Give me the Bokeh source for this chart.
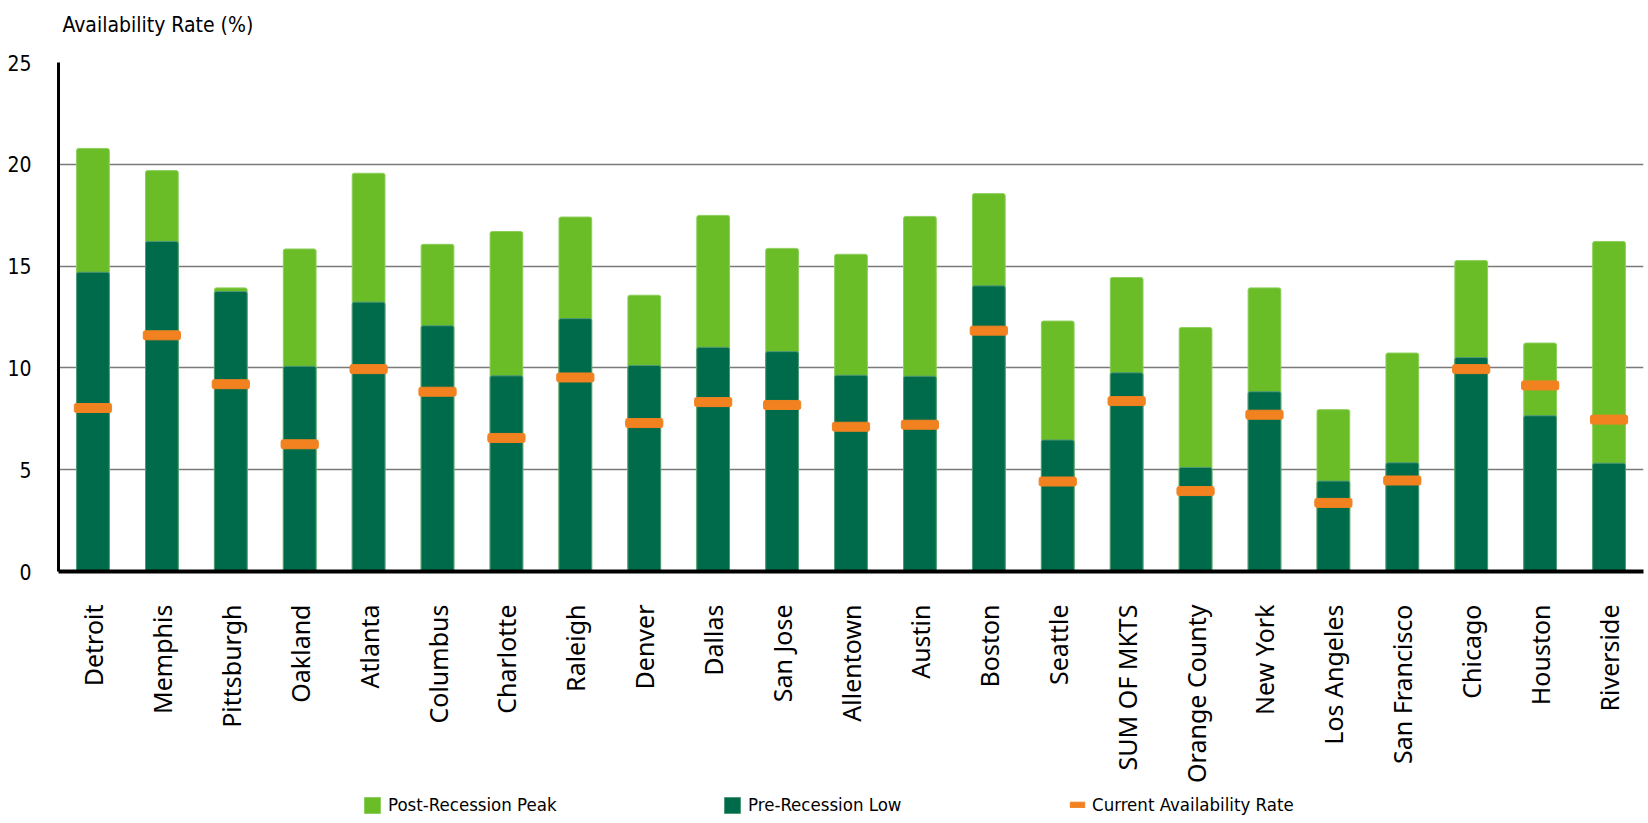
import math
from bokeh.plotting import figure
from bokeh.models import FixedTicker, Legend, LegendItem, Label, Range1d
from bokeh.layouts import column
from bokeh.embed import file_html
from bokeh.resources import INLINE

cities = ["Detroit", "Memphis", "Pittsburgh", "Oakland", "Atlanta", "Columbus",
          "Charlotte", "Raleigh", "Denver", "Dallas", "San Jose", "Allentown",
          "Austin", "Boston", "Seattle", "SUM OF MKTS", "Orange County",
          "New York", "Los Angeles", "San Francisco", "Chicago", "Houston",
          "Riverside"]
post_peak = [20.78, 19.69, 13.93, 15.84, 19.56, 16.07, 16.70, 17.41, 13.57,
             17.49, 15.87, 15.58, 17.44, 18.56, 12.30, 14.44, 11.98, 13.93,
             7.95, 10.73, 15.27, 11.22, 16.21]
pre_low = [14.70, 16.21, 13.75, 10.08, 13.23, 12.07, 9.61, 12.42, 10.12,
           11.01, 10.80, 9.64, 9.59, 14.03, 6.46, 9.76, 5.11, 8.83,
           4.44, 5.34, 10.51, 7.65, 5.32]
current = [8.03, 11.60, 9.20, 6.25, 9.94, 8.83, 6.56, 9.53, 7.29,
           8.32, 8.18, 7.11, 7.21, 11.83, 4.42, 8.37, 3.95, 7.70,
           3.37, 4.47, 9.94, 9.14, 7.46]
y_ticks = [0, 5, 10, 15, 20, 25]
legend_labels = ["Post-Recession Peak", "Pre-Recession Low", "Current Availability Rate"]
y_title = "Availability Rate (%)"

LIGHT = "#6bbd28"
DARK = "#006b4b"
ORANGE = "#f28220"
COND = "DejaVu Sans Condensed"


def strip(h):
    f = figure(width=1648, height=h, output_backend="svg", toolbar_location=None,
               x_range=Range1d(0, 1), y_range=Range1d(0, 1),
               x_axis_location=None, y_axis_location=None,
               min_border_left=0, min_border_right=0, min_border_top=0,
               min_border_bottom=0)
    f.outline_line_color = None
    f.grid.grid_line_color = None
    return f


# title strip
t = strip(40)
t.add_layout(Label(x=4, y=16, x_units="screen", y_units="screen",
                   text=y_title, text_font=COND, text_font_size="21px",
                   text_color="black", text_baseline="middle",
                   text_align="left"))

# main chart
p = figure(x_range=cities, y_range=(0, 25), width=1648, height=745,
           output_backend="svg", toolbar_location=None,
           min_border_left=58, min_border_right=5, min_border_top=22,
           min_border_bottom=212)
p.outline_line_color = None

r_peak = p.vbar(x=cities, top=post_peak, width=0.475, fill_color=LIGHT,
                line_color="#8ccf5c", line_width=1, border_radius=2)
r_low = p.vbar(x=cities, top=pre_low, width=0.475, fill_color=DARK,
               line_color="#4f9a7a", line_width=1, border_radius=2)
r_cur = p.rect(x=cities, y=current, width=0.54, height=9, height_units="screen",
               fill_color=ORANGE, line_color=ORANGE, line_width=1,
               border_radius=2)

p.xgrid.grid_line_color = None
p.ygrid.grid_line_color = "#7a7a7a"
p.ygrid.grid_line_width = 1.5
p.ygrid.ticker = FixedTicker(ticks=y_ticks)

p.yaxis.ticker = FixedTicker(ticks=y_ticks)
p.yaxis.axis_line_color = "black"
p.yaxis.axis_line_width = 3
p.yaxis.major_tick_line_color = None
p.yaxis.minor_tick_line_color = None
p.yaxis.major_label_standoff = 21
p.yaxis.major_label_text_font = COND
p.yaxis.major_label_text_font_size = "21px"
p.yaxis.major_label_text_color = "black"

p.xaxis.axis_line_color = "black"
p.xaxis.axis_line_width = 4
p.xaxis.major_tick_line_color = None
p.xaxis.minor_tick_line_color = None
p.xaxis.major_label_orientation = math.pi / 2
p.xaxis.major_label_standoff = 27
p.xaxis.major_label_text_font = "Noto Sans"
p.xaxis.major_label_text_font_size = "25px"
p.xaxis.major_label_text_color = "black"

# legend strip
q = strip(38)
# zero-size placeholders: only their legend swatches are shown
l_peak = q.vbar(x=[0], top=[0], width=0, fill_color=LIGHT, line_color="#8ccf5c")
l_low = q.vbar(x=[0], top=[0], width=0, fill_color=DARK, line_color="#4f9a7a")
l_cur = q.vbar(x=[0], top=[0], width=0, fill_color=ORANGE, line_color=ORANGE)


def make_legend(renderer, label, x, gw, gh):
    lg = Legend(items=[LegendItem(label=label, renderers=[renderer])],
                location=(x, 6), orientation="horizontal",
                glyph_width=gw, glyph_height=gh, label_standoff=6,
                label_text_font=COND, label_text_font_size="18.5px",
                label_text_color="black", margin=0, padding=0,
                border_line_color=None, background_fill_alpha=0,
                label_height=25)
    q.add_layout(lg, "center")


make_legend(l_peak, legend_labels[0], 304, 20, 20)
make_legend(l_low, legend_labels[1], 664, 20, 20)
make_legend(l_cur, legend_labels[2], 1010, 18, 7)

layout = column(t, p, q, spacing=0)
open("out.html", "w").write(file_html(layout, INLINE))
